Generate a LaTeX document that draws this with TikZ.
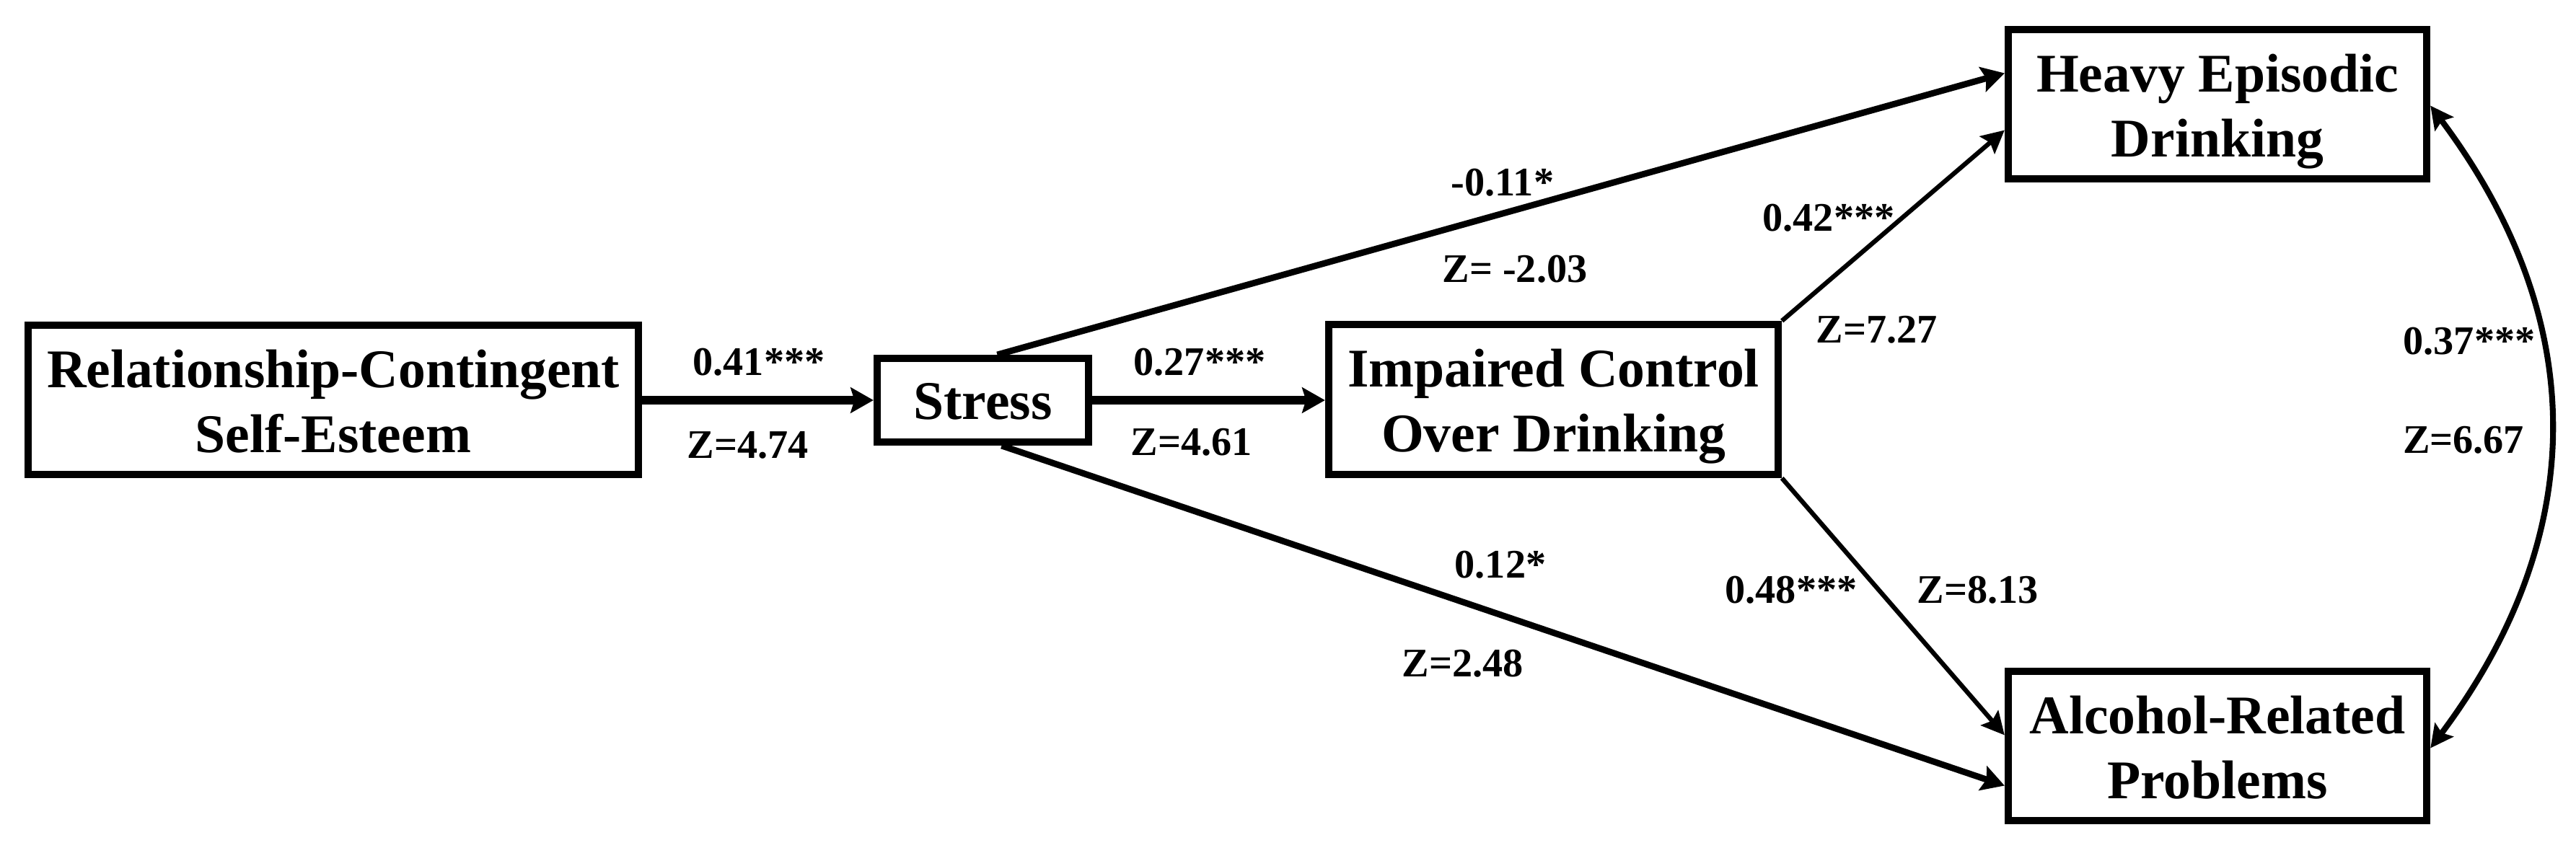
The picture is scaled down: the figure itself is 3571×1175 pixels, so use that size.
\documentclass[tikz,border=0pt]{standalone}
\usepackage{fontspec}
\setmainfont{Liberation Serif}
\usetikzlibrary{arrows.meta,calc}
\begin{document}
\begin{tikzpicture}[x=0.01cm,y=-0.01cm,
 box/.style={draw, line width=2.85pt, align=center, inner sep=0pt, text height=41.5pt, text depth=0pt, font=\fontsize{21.5}{25.6}\selectfont\bfseries},
 onebox/.style={box, text height=15pt, text depth=0pt},
 lab/.style={font=\fontsize{16}{18}\selectfont\bfseries, inner sep=0pt},
 harr/.style={line width=3.3pt, -{Stealth[length=9pt,width=10pt,inset=1.5pt]}},
 arr/.style={line width=2.5pt, -{Stealth[length=9pt,width=10pt,inset=1.5pt]}},
 thinarr/.style={line width=1.8pt, -{Stealth[length=9pt,width=9pt,inset=1.5pt]}},
 biarr/.style={line width=2.3pt, {Stealth[length=9pt,width=9pt,inset=1.5pt]}-{Stealth[length=9pt,width=9pt,inset=1.5pt]}}]
\useasboundingbox (0,0) rectangle (3571,1175);
\node[box, minimum width=8.46cm, minimum height=2.07cm] (rcse) at (462,554.5) {Relationship-Contingent\\Self-Esteem};
\node[onebox, minimum width=2.93cm, minimum height=1.16cm] (stress) at (1362.5,555) {Stress};
\node[box, minimum width=6.23cm, minimum height=2.08cm] (icd) at (2153.5,554) {Impaired Control\\Over Drinking};
\node[box, minimum width=5.80cm, minimum height=2.07cm] (hed) at (3074,144.5) {Heavy Episodic\\Drinking};
\node[box, minimum width=5.80cm, minimum height=2.07cm] (arp) at (3074,1034.5) {Alcohol-Related\\Problems};

\draw[harr] (rcse.east |- stress.west) -- (stress.west);
\draw[harr] (stress.east) -- (stress.east -| icd.west);
\draw[arr] ($(stress.north)+(20,0)$) -- ($(hed.west)+(0,-43)$);
\draw[arr] ($(stress.south)+(26,0)$) -- ($(arp.west)+(0,55)$);
\draw[thinarr] (icd.north east) -- ($(hed.west)+(0,36)$);
\draw[thinarr] (icd.south east) -- ($(arp.west)+(0,-15)$);
\draw[biarr] ($(hed.east)+(0,2)$) .. controls (3591,443) and (3591,741) .. ($(arp.east)+(0,3)$);

\node[lab] (l1) at (1052,502) {0.41***};
\node[lab] (z1) at (1037,617) {Z=4.74};
\node[lab] (l2) at (1663,502) {0.27***};
\node[lab] (z2) at (1652,613) {Z=4.61};
\node[lab] (l3) at (2083,253) {-0.11*};
\node[lab] (z3) at (2100,373) {Z= -2.03};
\node[lab] (l4) at (2535,302) {0.42***};
\node[lab] (z4) at (2602,457) {Z=7.27};
\node[lab] (l5) at (2080,783) {0.12*};
\node[lab] (z5) at (2028,920) {Z=2.48};
\node[lab] (l6) at (2483,818) {0.48***};
\node[lab] (z6) at (2742,818) {Z=8.13};
\node[lab] (l7) at (3423,473) {0.37***};
\node[lab] (z7) at (3415,610) {Z=6.67};
\end{tikzpicture}
\end{document}
